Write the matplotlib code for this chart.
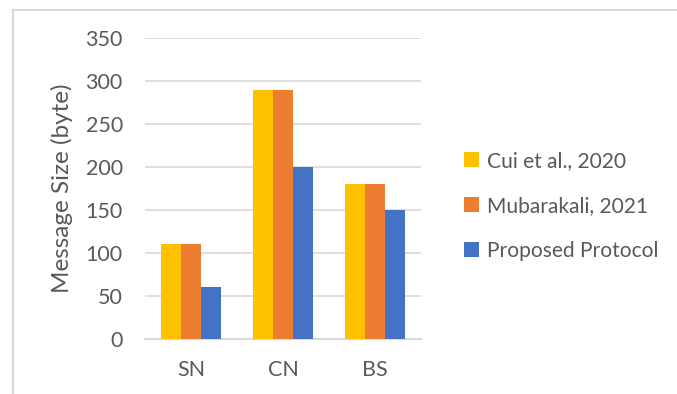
import matplotlib.pyplot as plt
import numpy as np
from matplotlib.lines import Line2D

# data
categorias = ['SN', 'CN', 'BS']
cui_2020 = [110, 290, 180]
mubarakali_2021 = [110, 290, 180]
propuesto = [60, 200, 150]
series = ['Cui et al., 2020', 'Mubarakali, 2021', 'Proposed Protocol']
colores = ['#FFC000', '#ED7D31', '#4472C4']

plt.rcParams['font.family'] = ['Lato', 'DejaVu Sans']
gris_texto = '#595959'

fig = plt.figure(figsize=(6.77, 3.94), dpi=100)
W, H = 677, 394
ax = fig.add_axes([145 / W, (H - 339) / H, (421 - 145) / W, (339 - 38) / H])

x = np.arange(len(categorias))
ancho = 0.22
for i, (valores, nombre) in enumerate(zip([cui_2020, mubarakali_2021, propuesto], series)):
    ax.bar(x + (i - 1) * ancho, valores, ancho, color=colores[i], label=nombre, zorder=3)

ax.set_xlim(-0.5, 2.5)
ax.set_ylim(0, 350)
ax.set_yticks(range(0, 351, 50))
ax.set_xticks(x)
ax.set_xticklabels(categorias)
ax.grid(axis='y', color='#D9D9D9', linewidth=1.2, zorder=0)
for lado in ['top', 'right', 'left']:
    ax.spines[lado].set_visible(False)
ax.spines['bottom'].set_color('#D9D9D9')
ax.spines['bottom'].set_linewidth(1.5)
ax.tick_params(axis='both', length=0, labelsize=15.5, labelcolor=gris_texto)
ax.tick_params(axis='y', pad=16)
ax.tick_params(axis='x', pad=15)
ax.set_ylabel('Message Size (byte)', fontsize=17.5, color=gris_texto, labelpad=9)

ax.legend(loc='center left', bbox_to_anchor=(445 / W, (H - 206) / H), bbox_transform=fig.transFigure,
          frameon=False, fontsize=15.1, labelcolor=gris_texto, handlelength=0.7, handleheight=0.7,
          handletextpad=0.4, labelspacing=1.2)

# borde del grafico
fig.add_artist(Line2D([12.5 / W, 1], [1 - 9.5 / H, 1 - 9.5 / H], transform=fig.transFigure, color='#D9D9D9', lw=1.5))
fig.add_artist(Line2D([12.5 / W, 12.5 / W], [0, 1 - 9.5 / H], transform=fig.transFigure, color='#D9D9D9', lw=1.5))

fig.savefig('out.png', dpi=100)
